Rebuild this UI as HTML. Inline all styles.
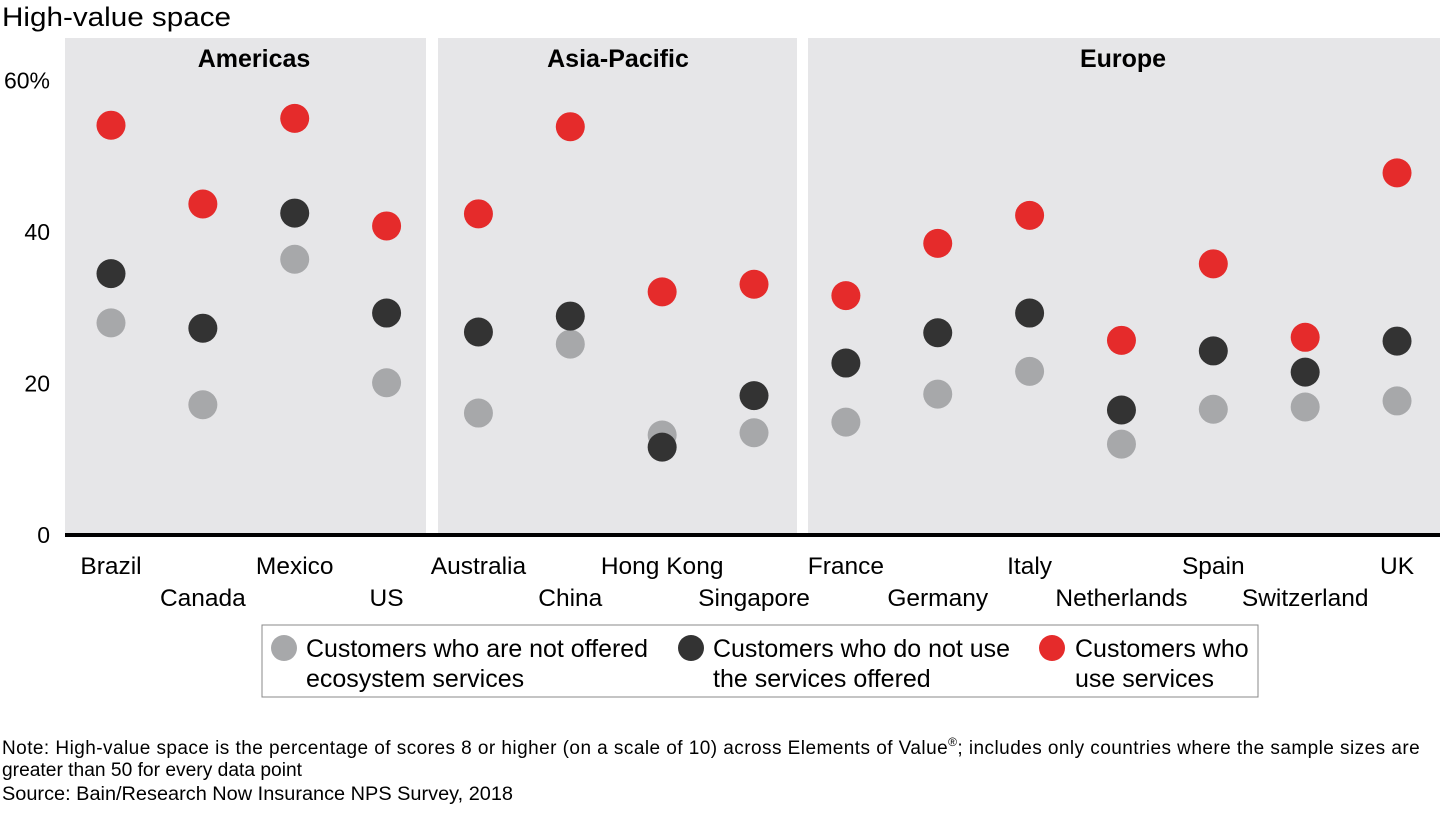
<!DOCTYPE html>
<html><head><meta charset="utf-8"><style>
body{margin:0;background:#fff;font-family:"Liberation Sans",Arial,sans-serif;}
svg text{font-family:"Liberation Sans",Arial,sans-serif;}
</style></head><body>
<svg id="chart" width="1440" height="810" xmlns="http://www.w3.org/2000/svg">
<text x="2" y="26" font-size="27" textLength="229" lengthAdjust="spacingAndGlyphs" fill="#000">High-value space</text>
<g id="panels"></g>
<g id="ticks"></g>
<g id="dots"></g>
<g id="labels"></g>
<rect x="262" y="625" width="996" height="72" fill="#fff" stroke="#888" stroke-width="1"/>
<g>
<circle cx="284" cy="648" r="13" fill="#a7a8aa"/>
<text x="306" y="657" font-size="25" textLength="342" lengthAdjust="spacingAndGlyphs">Customers who are not offered</text>
<text x="306" y="687" font-size="25">ecosystem services</text></g>
<g>
<circle cx="691" cy="648" r="13" fill="#333333"/>
<text x="713" y="657" font-size="25" textLength="297" lengthAdjust="spacingAndGlyphs">Customers who do not use</text>
<text x="713" y="687" font-size="25">the services offered</text></g>
<g>
<circle cx="1052" cy="648" r="13" fill="#e52b2b"/>
<text x="1075" y="657" font-size="25">Customers who</text>
<text x="1075" y="687" font-size="25">use services</text></g>
<text x="2" y="754" font-size="19" letter-spacing="0.45">Note: High-value space is the percentage of scores 8 or higher (on a scale of 10) across Elements of Value<tspan font-size="12" dy="-8">®</tspan><tspan dy="8">; includes only countries where the sample sizes are</tspan></text>
<text x="2" y="776" font-size="19" textLength="300" lengthAdjust="spacingAndGlyphs">greater than 50 for every data point</text>
<text x="2" y="800" font-size="19" textLength="511" lengthAdjust="spacingAndGlyphs">Source: Bain/Research Now Insurance NPS Survey, 2018</text>
</svg>
<script>
const countries=["Brazil","Canada","Mexico","US","Australia","China","Hong Kong","Singapore","France","Germany","Italy","Netherlands","Spain","Switzerland","UK"];
const notOffered=[28.0,17.2,36.4,20.1,16.1,25.2,13.2,13.5,14.9,18.6,21.6,12.0,16.6,16.9,17.7];
const notUse=[34.5,27.3,42.5,29.3,26.8,28.9,11.6,18.4,22.7,26.7,29.3,16.5,24.3,21.5,25.6];
const useServices=[54.1,43.7,55.0,40.8,42.4,53.9,32.1,33.1,31.6,38.5,42.2,25.7,35.8,26.1,47.8];
const regions=["Americas","Asia-Pacific","Europe"];
const regionCounts=[4,4,7];
const yTicks=[0,20,40,60];
const yTickLabels=["0","20","40","60%"];
const NS="http://www.w3.org/2000/svg";
const y=v=>535-v*7.575;
const x=i=>111+i*91.86;
function mk(tag,attrs,parent){const e=document.createElementNS(NS,tag);for(const k in attrs)e.setAttribute(k,attrs[k]);parent.appendChild(e);return e;}
const panels=document.getElementById('panels');
const bounds=[[65,426],[438,797],[808,1440]];
const labelCx=[254,618,1123];
let start=0;
regions.forEach((r,ri)=>{
  const n=regionCounts[ri];
  const x0=bounds[ri][0], x1=bounds[ri][1];
  const rc=mk('rect',{x:x0,y:38,width:x1-x0,height:497,fill:'#e6e6e8'},panels);
  
  
  const t=mk('text',{x:labelCx[ri],y:67,'font-size':25,'font-weight':'bold','text-anchor':'middle'},panels);
  t.textContent=r;
  
  
  start+=n;
});
const ticks=document.getElementById('ticks');
yTicks.forEach((v,i)=>{
  const t=mk('text',{x:50,y:y(v)+8,'font-size':23,'text-anchor':'end'},ticks);
  t.textContent=yTickLabels[i];
  
  
});
const ax=mk('line',{x1:65,x2:1440,y1:y(0),y2:y(0),stroke:'#000','stroke-width':4},ticks);


const dots=document.getElementById('dots');
[[notOffered,'#a7a8aa','not-offered'],[notUse,'#333333','not-use'],[useServices,'#e52b2b','use']].forEach(([arr,c,nm])=>{
  arr.forEach((v,i)=>{
    const d=mk('circle',{cx:x(i),cy:y(v),r:14.5,fill:c},dots);
    
    
  });
});
const labels=document.getElementById('labels');
countries.forEach((c,i)=>{
  const t=mk('text',{x:x(i),y:i%2?606:574,'font-size':24.5,'text-anchor':'middle'},labels);
  t.textContent=c;
  
  
});
</script>
</body></html>
